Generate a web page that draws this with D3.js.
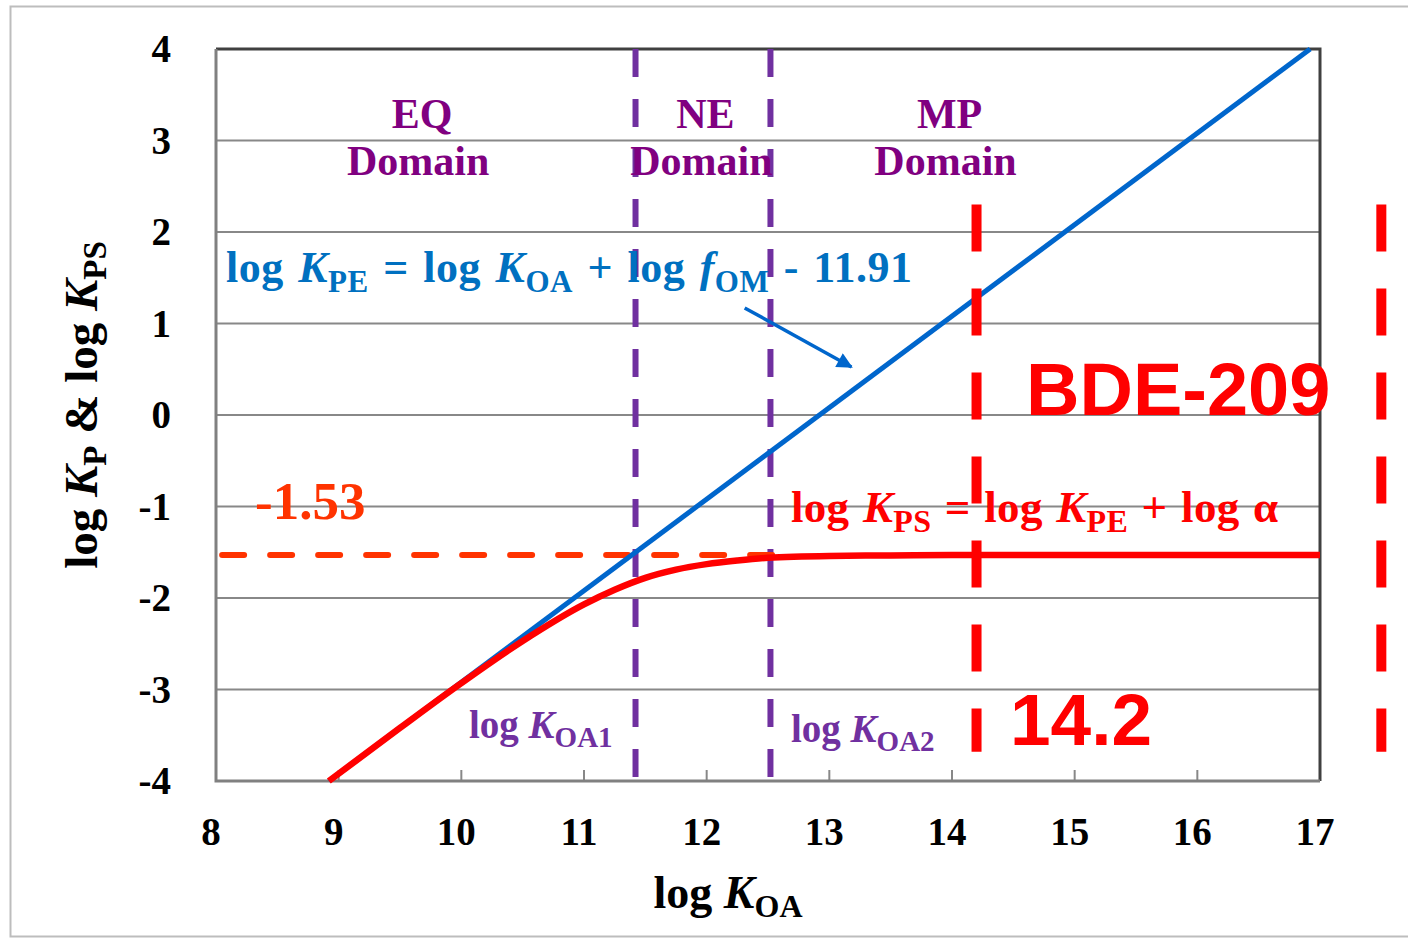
<!DOCTYPE html>
<html><head><meta charset="utf-8">
<script src="https://cdn.jsdelivr.net/npm/d3@7"></script>
<style>body{margin:0;background:#fff}svg{display:block}text{font-family:"Liberation Serif","Times New Roman",serif;font-weight:bold}</style>
</head><body>
<svg id="c" width="1408" height="941"></svg>
<script>
// ---- data ----
const xTicks = [8,9,10,11,12,13,14,15,16,17];
const yTicks = [-4,-3,-2,-1,0,1,2,3,4];
const kpeX = [8.92, 16.92];
const kpeY = [-4, 4];
const kpsX = [8.92, 9.5, 10, 10.5, 11, 11.25, 11.5, 11.75, 12, 12.25, 12.5, 13, 13.5, 14, 15, 16, 17];
const kpsY = [-4.0, -3.42, -2.93, -2.47, -2.07, -1.91, -1.78, -1.69, -1.63, -1.59, -1.56, -1.54, -1.535, -1.53, -1.53, -1.53, -1.53];
const plateau = -1.53;
const plateauX = [8.05, 12.55];
const koaBounds = [11.42, 12.52];
const bdeBounds = [14.2, 17.5];
const bdeRange = [2.3, -3.68];
const domainNames = ["EQ","NE","MP"];
const domainX = [9.68, 11.99, 13.98];

const svg = d3.select("#c");
const x = d3.scaleLinear().domain([8,17]).range([216,1320]);
const y = d3.scaleLinear().domain([-4,4]).range([781,49]);

// outer border
svg.append("rect").attr("x",10.5).attr("y",6.5).attr("width",1420).attr("height",930)
  .attr("fill","none").attr("stroke","#bdbdbd").attr("stroke-width",2);

// grid
svg.append("g").selectAll("line").data(yTicks.filter(d=>d>-4&&d<4)).join("line")
  .attr("x1",x(8)).attr("x2",x(17)).attr("y1",d=>y(d)).attr("y2",d=>y(d))
  .attr("stroke","#888").attr("stroke-width",2);

// x ticks (inside)
svg.append("g").selectAll("line").data(xTicks.filter(d=>d>8&&d<17)).join("line")
  .attr("x1",d=>x(d)).attr("x2",d=>x(d)).attr("y1",y(-4)).attr("y2",y(-4)-11)
  .attr("stroke","#888").attr("stroke-width",2);

// frame
svg.append("path").attr("d",`M${x(8)},${y(4)}L${x(17)},${y(4)}L${x(17)},${y(-4)}`)
  .attr("fill","none").attr("stroke","#404040").attr("stroke-width",3);
svg.append("path").attr("d",`M${x(8)},${y(4)}L${x(8)},${y(-4)}L${x(17)},${y(-4)}`)
  .attr("fill","none").attr("stroke","#808080").attr("stroke-width",3);

// tick labels
svg.append("g").selectAll("text").data(yTicks).join("text")
  .attr("x",171).attr("y",d=>y(d)+13).attr("text-anchor","end")
  .attr("font-size",39).text(d=>d);
svg.append("g").selectAll("text").data(xTicks).join("text")
  .attr("x",d=>x(d)-5).attr("y",845).attr("text-anchor","middle")
  .attr("font-size",39).text(d=>d);

// axis titles
const xt = svg.append("text").attr("x",728).attr("y",908).attr("text-anchor","middle").attr("font-size",46);
xt.append("tspan").text("log ");
xt.append("tspan").attr("font-style","italic").text("K");
xt.append("tspan").attr("font-size",32).attr("dy",9).text("OA");

const yt = svg.append("text").attr("transform","translate(97,405) rotate(-90)").attr("text-anchor","middle").attr("font-size",47);
yt.append("tspan").text("log ");
yt.append("tspan").attr("font-style","italic").text("K");
yt.append("tspan").attr("font-size",33).attr("dy",9).text("P");
yt.append("tspan").attr("dy",-9).text(" & log ");
yt.append("tspan").attr("font-style","italic").text("K");
yt.append("tspan").attr("font-size",33).attr("dy",9).text("PS");

// purple dashed KOA bounds
svg.append("g").selectAll("line").data(koaBounds).join("line")
  .attr("x1",d=>x(d)).attr("x2",d=>x(d)).attr("y1",y(4)).attr("y2",y(-4))
  .attr("stroke","#7030A0").attr("stroke-width",6).attr("stroke-dasharray","28,22");

// orange plateau dashed
svg.append("line").attr("x1",x(plateauX[0])).attr("x2",x(plateauX[1]))
  .attr("y1",y(plateau)).attr("y2",y(plateau))
  .attr("stroke","#FF3300").attr("stroke-width",6).attr("stroke-linecap","round").attr("stroke-dasharray","22,26");

// blue KPE line
const lineGen = d3.line().x(d=>x(d[0])).y(d=>y(d[1]));
svg.append("path").datum(kpeX.map((v,i)=>[v,kpeY[i]])).attr("d",lineGen)
  .attr("fill","none").attr("stroke","#0066CC").attr("stroke-width",5);

// red KPS curve
svg.append("path").datum(kpsX.map((v,i)=>[v,kpsY[i]])).attr("d",lineGen.curve(d3.curveMonotoneX))
  .attr("fill","none").attr("stroke","#FF0000").attr("stroke-width",6.5);

// red BDE-209 dashed bounds
svg.append("g").selectAll("line").data(bdeBounds).join("line")
  .attr("x1",d=>x(d)).attr("x2",d=>x(d)).attr("y1",y(bdeRange[0])).attr("y2",y(bdeRange[1]))
  .attr("stroke","#FF0000").attr("stroke-width",10).attr("stroke-dasharray","47,37");

// arrow
const defs = svg.append("defs");
defs.append("marker").attr("id","ah").attr("viewBox","0 0 10 10").attr("refX",9).attr("refY",5)
  .attr("markerWidth",5).attr("markerHeight",4.5).attr("orient","auto")
  .append("path").attr("d","M0,0L10,5L0,10z").attr("fill","#0066CC");
svg.append("line").attr("x1",x(12.31)).attr("y1",y(1.17)).attr("x2",x(13.18)).attr("y2",y(0.525))
  .attr("stroke","#0066CC").attr("stroke-width",3.5).attr("marker-end","url(#ah)");

// domain labels
domainNames.forEach((n,i)=>{
  svg.append("text").attr("x",x(domainX[i])).attr("y",128).attr("text-anchor","middle").attr("font-size",42).attr("fill","#800080").text(n);
  svg.append("text").attr("x",x(domainX[i])-4).attr("y",175).attr("text-anchor","middle").attr("font-size",42).attr("fill","#800080").text("Domain");
});

// rich text helper
function sub(t, parts, small, off){
  parts.forEach(p=>{
    const ts = t.append("tspan").text(p[0]);
    if(p[1]==="i") ts.attr("font-style","italic");
    if(p[1]==="s"){ ts.attr("font-size",small).attr("dy",off); }
    if(p[1]==="u"){ ts.attr("dy",-off); }
  });
}
const be = svg.append("text").attr("x",226).attr("y",282).attr("font-size",44).attr("fill","#0070C0")
  .attr("word-spacing",3).attr("letter-spacing",0.5);
sub(be,[["log "],["K","i"],["PE","s"],[" = log ","u"],["K","i"],["OA","s"],[" + log ","u"],["f","i"],["OM","s"],[" - 11.91","u"]],31,10);

const re = svg.append("text").attr("x",791).attr("y",522).attr("font-size",45).attr("fill","#FF0000")
  .attr("word-spacing",2).attr("letter-spacing",0.3);
sub(re,[["log "],["K","i"],["PS","s"],[" = log ","u"],["K","i"],["PE","s"],[" + log α","u"]],32,10);

svg.append("text").attr("x",255).attr("y",519).attr("font-size",53).attr("fill","#FF3300").text("-1.53");

const k1 = svg.append("text").attr("x",469).attr("y",738).attr("font-size",39).attr("fill","#7030A0");
sub(k1,[["log "],["K","i"],["OA1","s"]],29,9);
const k2 = svg.append("text").attr("x",791).attr("y",742).attr("font-size",39).attr("fill","#7030A0");
sub(k2,[["log "],["K","i"],["OA2","s"]],29,9);

svg.append("text").attr("x",1026).attr("y",415).attr("font-size",74).attr("fill","#FF0000")
  .style("font-family","'Liberation Sans',Arial,sans-serif").text("BDE-209");
svg.append("text").attr("x",1010).attr("y",745).attr("font-size",73).attr("fill","#FF0000")
  .style("font-family","'Liberation Sans',Arial,sans-serif").text("14.2");
</script>
</body></html>
